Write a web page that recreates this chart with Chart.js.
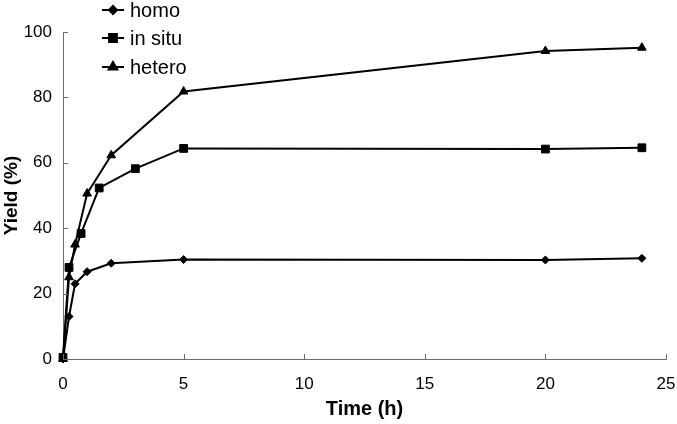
<!DOCTYPE html>
<html lang="en">
<head>
  <meta charset="UTF-8">
  <title>Yield vs Time</title>
  <style>
    body { margin: 0; background: #fff; }
    canvas { display: block; }
  </style>
</head>
<body>
  <canvas id="grafico" width="677" height="424"></canvas>
  <script src="https://cdn.jsdelivr.net/npm/chart.js"></script>
  <script>
    // data
    const seriesNames = ['homo', 'in situ', 'hetero'];
    const homoTime = [0, 0.25, 0.5, 1, 2, 5, 20, 24];
    const homoYield = [0, 13, 23, 26.7, 29.3, 30.4, 30.3, 30.8];
    const insituTime = [0, 0.25, 0.75, 1.5, 3, 5, 20, 24];
    const insituYield = [0.5, 28, 38.4, 52.3, 58.2, 64.4, 64.2, 64.6];
    const heteroTime = [0, 0.25, 0.5, 1, 2, 5, 20, 24];
    const heteroYield = [0, 25, 35, 50.6, 62.3, 81.8, 94.2, 95.2];
    const xTicks = [0, 5, 10, 15, 20, 25];
    const yTicks = [0, 20, 40, 60, 80, 100];

    const pts = (t, v) => t.map((x, i) => ({ x: x, y: v[i] }));
    const fnt = 'Arial, "Liberation Sans", sans-serif';
    const axisColor = '#6b6b6b';

    const comum = { borderColor: '#000', backgroundColor: '#000', borderWidth: 2, tension: 0, clip: false, pointBorderWidth: 1 };

    // tick marks drawn inward, like the original
    const marcasInternas = {
      id: 'marcasInternas',
      afterDraw(chart) {
        const ctx = chart.ctx, a = chart.chartArea;
        const sx = chart.scales.x, sy = chart.scales.y;
        ctx.save();
        ctx.strokeStyle = axisColor;
        ctx.lineWidth = 1;
        ctx.beginPath();
        xTicks.forEach(t => { const p = Math.round(sx.getPixelForValue(t)) + 0.5; ctx.moveTo(p, a.bottom); ctx.lineTo(p, a.bottom - 5); });
        yTicks.forEach(t => { const p = Math.round(sy.getPixelForValue(t)) + 0.5; ctx.moveTo(a.left, p); ctx.lineTo(a.left + 5, p); });
        ctx.stroke();
        ctx.restore();
      }
    };

    // legend in the upper left corner
    const legenda = {
      id: 'legenda',
      afterDraw(chart) {
        const ctx = chart.ctx;
        const ys = [10, 38, 67];
        ctx.save();
        chart.data.datasets.forEach((ds, i) => {
          const y = ys[i];
          ctx.strokeStyle = '#000';
          ctx.lineWidth = 2;
          ctx.beginPath(); ctx.moveTo(102, y); ctx.lineTo(124, y); ctx.stroke();
          ctx.fillStyle = '#000';
          Chart.helpers.drawPoint(ctx, { pointStyle: ds.pointStyle, radius: ds.pointRadius, borderWidth: 1 }, 113, y);
          ctx.fillStyle = '#000';
          ctx.font = '20px ' + fnt;
          ctx.textBaseline = 'middle';
          ctx.fillText(ds.label, 130, y + 1);
        });
        ctx.restore();
      }
    };

    new Chart(document.getElementById('grafico'), {
      type: 'line',
      data: {
        datasets: [
          Object.assign({ label: seriesNames[0], data: pts(homoTime, homoYield), pointStyle: 'rectRot', pointRadius: 4 }, comum),
          Object.assign({ label: seriesNames[1], data: pts(insituTime, insituYield), pointStyle: 'rect', pointRadius: 5.5 }, comum),
          Object.assign({ label: seriesNames[2], data: pts(heteroTime, heteroYield), pointStyle: 'triangle', pointRadius: 5 }, comum)
        ]
      },
      options: {
        responsive: false,
        animation: false,
        layout: { padding: { top: 32, right: 11, left: 0, bottom: 0 } },
        plugins: { legend: { display: false }, tooltip: { enabled: false } },
        scales: {
          x: {
            type: 'linear', min: 0, max: 25,
            afterFit: s => { s.height = 65; s.paddingLeft = 0; s.paddingRight = 0; },
            afterBuildTicks: s => { s.ticks = xTicks.map(v => ({ value: v })); },
            grid: { display: false, drawTicks: false },
            border: { display: true, color: axisColor, width: 1 },
            ticks: { color: '#000', padding: 15, font: { family: fnt, size: 17 }, maxRotation: 0 },
            title: { display: true, text: 'Time (h)', color: '#000', font: { family: fnt, size: 20, weight: 'bold' }, padding: { top: 0, bottom: 3 } }
          },
          y: {
            type: 'linear', min: 0, max: 100,
            afterFit: s => { s.width = 63; s.paddingTop = 0; s.paddingBottom = 0; },
            afterBuildTicks: s => { s.ticks = yTicks.map(v => ({ value: v })); },
            grid: { display: false, drawTicks: false },
            border: { display: true, color: axisColor, width: 1 },
            ticks: { color: '#000', padding: 11, font: { family: fnt, size: 17 } },
            title: { display: true, text: 'Yield (%)', color: '#000', font: { family: fnt, size: 19, weight: 'bold' }, padding: { top: 0, bottom: 0 } }
          }
        }
      },
      plugins: [marcasInternas, legenda]
    });
  </script>
</body>
</html>
